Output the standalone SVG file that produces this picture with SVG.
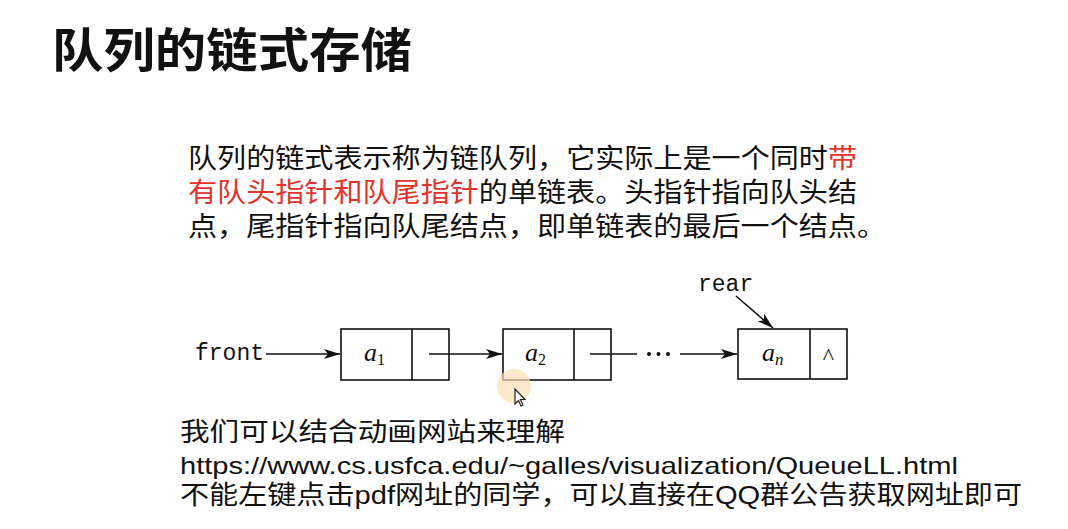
<svg xmlns="http://www.w3.org/2000/svg" width="1068" height="529" viewBox="0 0 1068 529">
  <style>
    .cjk { font-family: "Noto Sans CJK SC", "Noto Sans", sans-serif; fill: #111; }
    .title { font-size: 47px; font-weight: bold; }
    .para { font-size: 27px; }
    .red { fill: #e0342c; }
    .foot { font-size: 26px; fill: #111; }
    .url { font-family: "Liberation Sans", Arial, sans-serif; font-size: 24px; fill: #111; }
    .mono { font-family: "Liberation Mono", "Courier New", monospace; font-size: 23px; fill: #111; }
    .math { font-family: "Liberation Serif", "Times New Roman", serif; fill: #111; }
    .box { fill: #fff; stroke: #111; stroke-width: 1.6; }
    .link { stroke: #111; stroke-width: 1.6; fill: none; }
  </style>
  <defs>
    <marker id="arr" viewBox="0 0 16 10" refX="16" refY="5" markerWidth="16" markerHeight="10" markerUnits="userSpaceOnUse" orient="auto">
      <path d="M0,0 L16,5 L0,10 L4,5 Z" fill="#111"/>
    </marker>
  </defs>
  <rect width="1068" height="529" fill="#fff"/>

  <g id="title">
    <text class="cjk title" x="52" y="67" textLength="360" lengthAdjust="spacingAndGlyphs">队列的链式存储</text>
  </g>

  <g id="paragraph">
    <text class="cjk para" x="188" y="168" textLength="669" lengthAdjust="spacingAndGlyphs">队列的链式表示称为链队列，它实际上是一个同时<tspan class="red">带</tspan></text>
    <text class="cjk para" x="188" y="202" textLength="669" lengthAdjust="spacingAndGlyphs"><tspan class="red">有队头指针和队尾指针</tspan>的单链表。头指针指向队头结</text>
    <text class="cjk para" x="188" y="236" textLength="698" lengthAdjust="spacingAndGlyphs">点，尾指针指向队尾结点，即单链表的最后一个结点。</text>
  </g>

  <g id="front">
    <text class="mono" x="195" y="360">front</text>
  </g>
  <g id="rear">
    <text class="mono" x="698" y="291">rear</text>
  </g>

  <g id="node-a1">
    <rect class="box" x="341" y="329" width="108" height="51"/>
    <line class="link" x1="412" y1="329" x2="412" y2="380"/>
    <text class="math" x="364" y="361" font-size="26" font-style="italic">a<tspan font-size="16" font-style="normal" dy="4">1</tspan></text>
  </g>
  <g id="node-a2">
    <rect class="box" x="503" y="329" width="108" height="51"/>
    <line class="link" x1="574" y1="329" x2="574" y2="380"/>
    <text class="math" x="525" y="361" font-size="26" font-style="italic">a<tspan font-size="16" font-style="normal" dy="4">2</tspan></text>
  </g>
  <g id="node-an">
    <rect class="box" x="738" y="329" width="109" height="50"/>
    <line class="link" x1="810" y1="329" x2="810" y2="379"/>
    <text class="math" x="762" y="361" font-size="26" font-style="italic">a<tspan font-size="17" dy="4">n</tspan></text>
    <text class="math" x="828.5" y="364" font-size="24" text-anchor="middle">^</text>
  </g>

  <g id="connectors">
    <line class="link" x1="266" y1="354" x2="340" y2="354" marker-end="url(#arr)"/>
    <line class="link" x1="429" y1="354" x2="502" y2="354" marker-end="url(#arr)"/>
    <line class="link" x1="590" y1="354" x2="637" y2="354"/>
    <line class="link" x1="680" y1="354" x2="737" y2="354" marker-end="url(#arr)"/>
    <line class="link" x1="736" y1="296" x2="773" y2="328" marker-end="url(#arr)"/>
    <circle cx="649" cy="354" r="2" fill="#111"/>
    <circle cx="658.5" cy="354" r="2" fill="#111"/>
    <circle cx="668" cy="354" r="2" fill="#111"/>
  </g>

  <g id="cursor">
    <circle cx="514" cy="386" r="17" fill="#fbe0b6" opacity="0.7"/>
    <path d="M515,389 L515,404 L518.5,400.5 L521,406 L523,405 L520.5,399.5 L525,399.5 Z" fill="#fff" stroke="#222" stroke-width="1.2"/>
  </g>

  <g id="footer">
    <text class="cjk foot" x="180" y="441" textLength="385" lengthAdjust="spacingAndGlyphs">我们可以结合动画网站来理解</text>
    <text class="url" x="180" y="474" textLength="778" lengthAdjust="spacingAndGlyphs">https://www.cs.usfca.edu/~galles/visualization/QueueLL.html</text>
    <text class="cjk foot" x="180" y="504" textLength="842" lengthAdjust="spacingAndGlyphs">不能左键点击<tspan font-family="Liberation Sans, Arial, sans-serif">pdf</tspan>网址的同学，可以直接在<tspan font-family="Liberation Sans, Arial, sans-serif">QQ</tspan>群公告获取网址即可</text>
  </g>
</svg>
